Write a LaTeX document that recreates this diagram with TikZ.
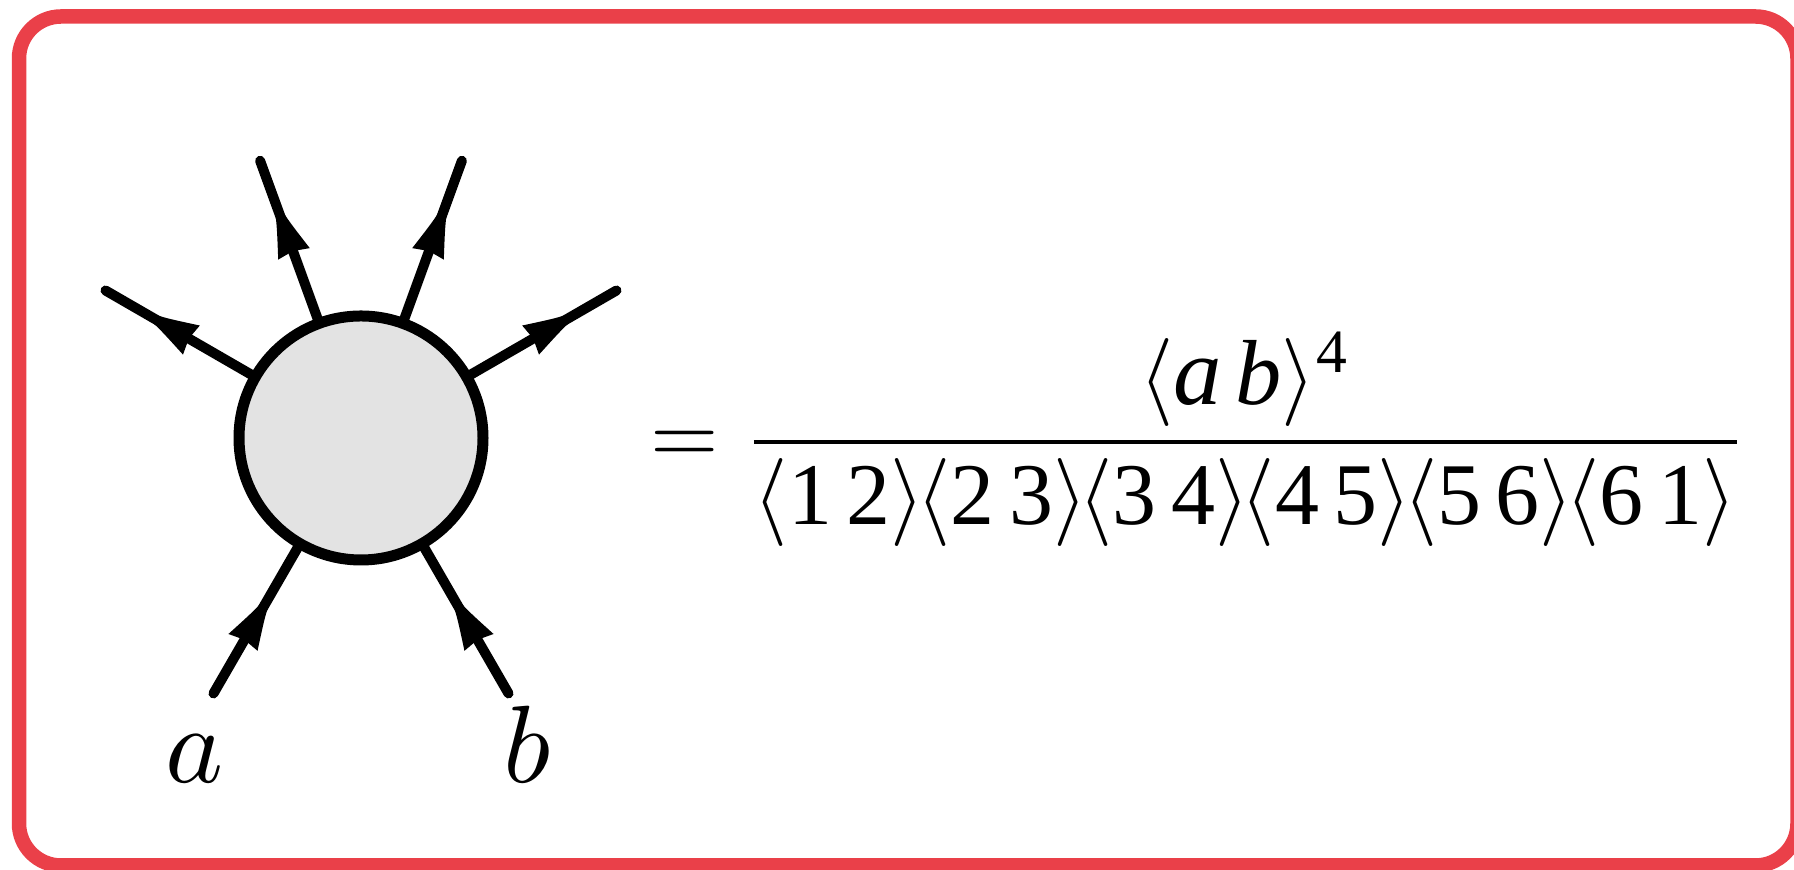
\documentclass[tikz,border=0pt]{standalone}
\usepackage{graphicx}
\usepackage{fontspec}
\newfontfamily\tms{Liberation Serif}
\usetikzlibrary{decorations.markings}
\definecolor{framered}{RGB}{234,64,73}
\definecolor{blobgray}{RGB}{227,227,227}
\newcommand\legtip{\fill (22pt,0pt) .. controls (8pt,2.6pt) .. (-10pt,8.4pt) -- (-8.5pt,0pt) -- (-10pt,-8.4pt) .. controls (8pt,-2.6pt) .. (22pt,0pt) -- cycle;}
\tikzset{
  legbase/.style={line width=5pt, line cap=round, postaction={decorate}},
  outleg/.style={legbase, decoration={markings, mark=at position 0.543 with {\legtip}}},
  inleg/.style={legbase, decoration={markings, mark=at position 0.457 with {\legtip}}},
  blob/.style={circle, draw, line width=5.5pt, fill=blobgray, minimum size=122pt, inner sep=0pt, outer sep=0pt},
  lab/.style={inner sep=0pt},
  formula/.style={inner sep=0pt}
}
\newcommand\spinbr[2]{\langle\hbox{\tms #1\,#2}\rangle}
\newcommand\pairgap{\mskip-1.8mu}
\begin{document}
\begin{tikzpicture}[x=0.5pt,y=0.5pt]
\useasboundingbox (0,0) rectangle (1794,870);
\draw[framered, line width=7.25pt, rounded corners=21pt] (19,4.5) rectangle (1797.5,853.5);
\node[blob] (blob) at (361,432) {};
\coordinate (e1) at ([shift={(150:295)}]blob.center);
\coordinate (e2) at ([shift={(110:295)}]blob.center);
\coordinate (e3) at ([shift={(70:295)}]blob.center);
\coordinate (e4) at ([shift={(30:295)}]blob.center);
\coordinate (ea) at ([shift={(240:295)}]blob.center);
\coordinate (eb) at ([shift={(300:295)}]blob.center);
\draw[outleg] (blob.150) -- (e1);
\draw[outleg] (blob.110) -- (e2);
\draw[outleg] (blob.70) -- (e3);
\draw[outleg] (blob.30) -- (e4);
\draw[inleg] (ea) -- (blob.240);
\draw[inleg] (eb) -- (blob.300);
\node[lab, anchor=base] (la) at (195,87) {\scalebox{5.5}{$a$}};
\node[lab, anchor=base] (lb) at (527,87) {\scalebox{5.5}{$b$}};
\node[formula, anchor=base west] (eq) at (650,406) {\scalebox{4.4}{$\displaystyle =\frac{\langle\hbox{\tms\itshape\scalebox{1.1}{a}\kern0.16em\scalebox{1.05}{b}}\rangle^{\hbox{\fontsize{7}{8}\selectfont\tms 4}}}{\spinbr{1}{2}\pairgap\spinbr{2}{3}\pairgap\spinbr{3}{4}\pairgap\spinbr{4}{5}\pairgap\spinbr{5}{6}\pairgap\spinbr{6}{1}}$}};
\end{tikzpicture}
\end{document}
